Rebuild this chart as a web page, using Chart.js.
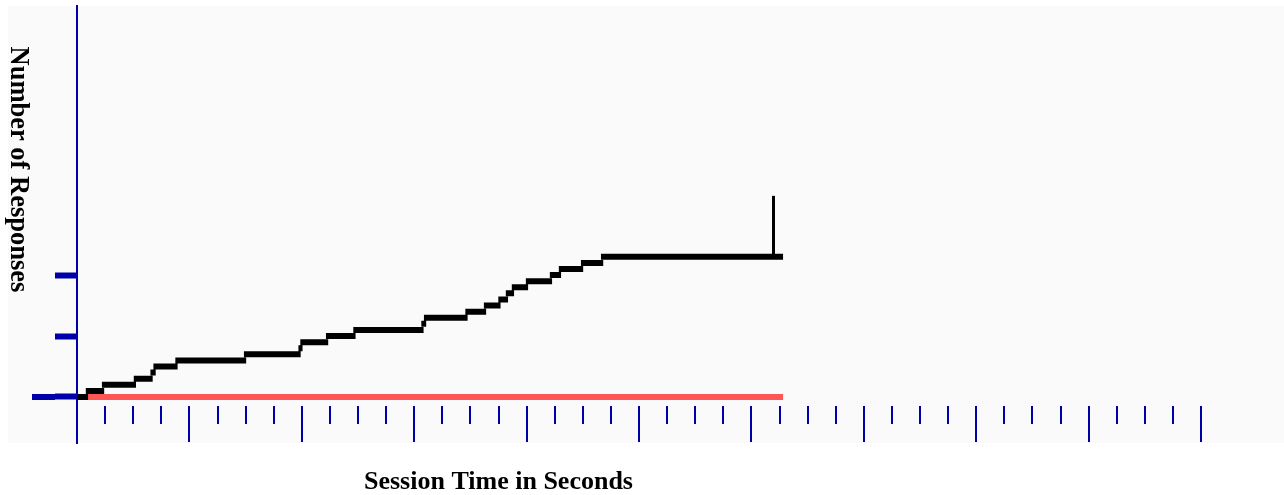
<!DOCTYPE html>
<html>
<head>
<meta charset="utf-8">
<style>
  html, body { margin: 0; padding: 0; background: #ffffff; }
  #wrap { width: 1284px; height: 495px; position: relative; }
</style>
<script src="https://cdn.jsdelivr.net/npm/chart.js@4.4.1/dist/chart.umd.min.js"></script>
</head>
<body>
<div id="wrap"><canvas id="c" width="1284" height="495"></canvas></div>
<script>
// ---- data (seconds / number of responses) ----
const stepTimes = [0, 5.3, 13.9, 30.9, 39.8, 41.4, 53.1, 89.7, 118.8, 119.8, 133.5, 148.1,
                   184.4, 185.8, 207.9, 217.8, 225.5, 229.5, 232.7, 240.2, 253.0, 257.8, 269.6, 280.3];
const stepCounts = [0, 1, 2, 3, 4, 5, 6, 7, 8, 9, 10, 11,
                    12, 13, 14, 15, 16, 17, 18, 19, 20, 21, 22, 23];
const sessionEnd = 376.9;
const baselineTimes = [5.3, 376.9];
const baselineValues = [0, 0];
const spikeTimes = [371.8, 371.8];
const spikeValues = [23, 33];
const yTickValues = [0, 10, 20];
const xMinorTicks = [15, 30, 45, 60, 75, 90, 105, 120, 135, 150, 165, 180, 195, 210, 225, 240,
                     255, 270, 285, 300, 315, 330, 345, 360, 375, 390, 405, 420, 435, 450, 465, 480,
                     495, 510, 525, 540, 555, 570, 585, 600];
const xMajorTicks = [60, 120, 180, 240, 300, 360, 420, 480, 540, 600];
const xTitle = 'Session Time in Seconds';
const yTitle = 'Number of Responses';

// ---- build datasets from the arrays ----
const joinOverlap = 0.6; // small overlap so neighbouring steps touch
const stepData = [];
for (let i = 0; i < stepTimes.length; i++) {
  const last = i + 1 >= stepTimes.length;
  const tEnd = last ? sessionEnd : stepTimes[i + 1];
  const s = i === 0 ? stepTimes[i] : stepTimes[i] - joinOverlap;
  const e = last ? tEnd : tEnd + joinOverlap;
  stepData.push({ x: s, y: stepCounts[i] });
  stepData.push({ x: e, y: stepCounts[i] });
  stepData.push({ x: e, y: null });
}
const baselineData = baselineTimes.map((t, i) => ({ x: t, y: baselineValues[i] }));
const spikeData = spikeTimes.map((t, i) => ({ x: t, y: spikeValues[i] }));

const BLUE = '#0000AA';

const decor = {
  id: 'decor',
  beforeDraw(chart) {
    const ctx = chart.ctx, a = chart.chartArea;
    ctx.save();
    ctx.fillStyle = '#ffffff';
    ctx.fillRect(0, 0, chart.width, chart.height);
    ctx.fillStyle = '#FAFAFA';
    ctx.fillRect(8, a.top, chart.width - 8, a.bottom - a.top);
    ctx.restore();
  },
  afterDraw(chart) {
    const ctx = chart.ctx, a = chart.chartArea;
    const xs = chart.scales.x, ys = chart.scales.y;
    const zeroY = Math.round(ys.getPixelForValue(0));
    ctx.save();
    ctx.fillStyle = BLUE;
    // x ticks below the plot
    xMinorTicks.forEach(v => {
      const px = Math.round(xs.getPixelForValue(v));
      const len = xMajorTicks.includes(v) ? 36 : 18;
      ctx.fillRect(px - 1, zeroY + 9, 2, len);
    });
    // longer baseline tick on the y axis
    ctx.fillRect(32, zeroY - 3, a.left - 22 - 32, 6);
    // titles
    ctx.fillStyle = '#000000';
    ctx.font = 'bold 26px "Liberation Serif", "Times New Roman", serif';
    ctx.textAlign = 'left';
    ctx.textBaseline = 'alphabetic';
    ctx.fillText(xTitle, 364, 489);
    ctx.translate(11, 46.5);
    ctx.rotate(Math.PI / 2);
    ctx.font = 'bold 26.5px "Liberation Serif", "Times New Roman", serif';
    ctx.fillText(yTitle, 0, 0);
    ctx.restore();
  }
};

new Chart(document.getElementById('c'), {
  type: 'line',
  data: {
    datasets: [
      { label: 'responses', data: stepData, borderColor: '#000000', borderWidth: 6,
        pointRadius: 0, spanGaps: false, borderCapStyle: 'butt', clip: false, order: 1 },
      { label: 'spike', data: spikeData, borderColor: '#000000', borderWidth: 3,
        pointRadius: 0, borderCapStyle: 'butt', clip: false, order: 0 },
      { label: 'baseline', data: baselineData, borderColor: '#FF5555', borderWidth: 6,
        pointRadius: 0, borderCapStyle: 'butt', clip: false, order: 2 }
    ]
  },
  options: {
    responsive: false,
    devicePixelRatio: 1,
    animation: false,
    layout: { padding: { left: 0, top: 6, right: 83, bottom: 52 } },
    plugins: { legend: { display: false }, tooltip: { enabled: false }, title: { display: false } },
    scales: {
      x: {
        type: 'linear', min: 0, max: 600, display: false
      },
      y: {
        type: 'linear', min: -7.55, max: 64.15, position: 'left',
        border: { display: true, color: BLUE, width: 2 },
        grid: { display: true, drawOnChartArea: false, drawTicks: true, tickLength: 22,
                tickWidth: 6, tickColor: BLUE, color: BLUE },
        ticks: { display: false },
        afterBuildTicks: s => { s.ticks = yTickValues.map(v => ({ value: v })); },
        afterFit: s => { s.width = 77; }
      }
    }
  },
  plugins: [decor]
});
</script>
</body>
</html>
